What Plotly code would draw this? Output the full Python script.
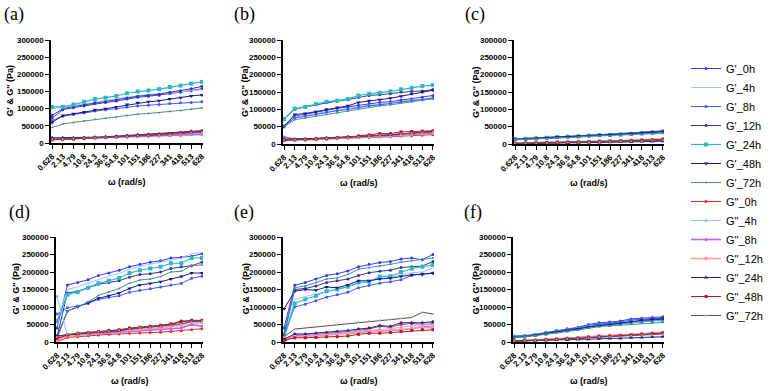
import plotly.graph_objects as go

# ---------------- data ----------------
OMEGA = ["0.628", "2.13", "4.79", "10.8", "24.3", "36.5", "54.8", "101", "151",
         "186", "227", "341", "418", "513", "628"]

SERIES = ["G'_0h", "G'_4h", "G'_8h", "G'_12h", "G'_24h", "G'_48h", "G'_72h",
          "G\"_0h", "G\"_4h", "G\"_8h", "G\"_12h", "G\"_24h", "G\"_48h", "G\"_72h"]

PANEL_LABELS = ["(a)", "(b)", "(c)", "(d)", "(e)", "(f)"]
Y_TICKS = [0, 50000, 100000, 150000, 200000, 250000, 300000]

# panel (a)
A_G1_0H = [72000, 97000, 103000, 108000, 115000, 118000, 122000, 128000, 133000, 136000, 139000, 144000, 148000, 152000, 158000]
A_G1_4H = [100000, 105000, 108000, 113000, 120000, 124000, 128000, 134000, 138000, 141000, 144000, 148000, 151000, 153000, 155000]
A_G1_8H = [65000, 78000, 83000, 88000, 93000, 97000, 100000, 105000, 108000, 110000, 112000, 115000, 117000, 118000, 120000]
A_G1_12H = [80000, 100000, 106000, 111000, 117000, 120000, 125000, 131000, 136000, 139000, 142000, 148000, 152000, 158000, 165000]
A_G1_24H = [105000, 105000, 112000, 120000, 128000, 132000, 137000, 145000, 150000, 153000, 157000, 163000, 167000, 173000, 178000]
A_G1_48H = [60000, 80000, 85000, 90000, 97000, 100000, 105000, 112000, 117000, 120000, 123000, 128000, 132000, 137000, 140000]
A_G1_72H = [45000, 55000, 60000, 64000, 69000, 72000, 75000, 80000, 84000, 86000, 88000, 92000, 95000, 98000, 102000]
A_G2_0H = [10000, 11000, 12000, 13000, 15000, 16000, 17000, 19000, 21000, 22000, 23000, 25000, 27000, 29000, 31000]
A_G2_4H = [12000, 12000, 13000, 14000, 15000, 16000, 17000, 19000, 20000, 21000, 22000, 24000, 25000, 27000, 28000]
A_G2_8H = [14000, 13000, 13000, 14000, 15000, 15000, 16000, 17000, 18000, 19000, 20000, 21000, 22000, 24000, 25000]
A_G2_12H = [12000, 12000, 13000, 14000, 16000, 17000, 18000, 20000, 22000, 23000, 24000, 26000, 28000, 30000, 32000]
A_G2_24H = [15000, 15000, 15000, 16000, 17000, 18000, 20000, 22000, 24000, 25000, 26000, 28000, 30000, 34000, 36000]
A_G2_48H = [9000, 11000, 12000, 13000, 15000, 16000, 18000, 20000, 22000, 23000, 25000, 27000, 29000, 31000, 34000]
A_G2_72H = [11000, 12000, 13000, 14000, 15000, 16000, 17000, 19000, 21000, 22000, 23000, 25000, 27000, 30000, 32000]

# panel (b)
B_G1_0H = [52000, 80000, 86000, 92000, 98000, 103000, 107000, 112000, 117000, 120000, 122000, 127000, 130000, 135000, 140000]
B_G1_4H = [55000, 78000, 83000, 88000, 93000, 97000, 101000, 107000, 112000, 115000, 118000, 123000, 127000, 130000, 133000]
B_G1_8H = [50000, 75000, 80000, 86000, 92000, 96000, 100000, 106000, 110000, 113000, 116000, 121000, 125000, 128000, 132000]
B_G1_12H = [72000, 100000, 107000, 113000, 120000, 124000, 128000, 135000, 140000, 142000, 145000, 150000, 152000, 153000, 157000]
B_G1_24H = [72000, 102000, 107000, 115000, 122000, 125000, 130000, 140000, 145000, 148000, 152000, 158000, 162000, 167000, 170000]
B_G1_48H = [50000, 85000, 88000, 93000, 100000, 105000, 110000, 120000, 125000, 128000, 132000, 138000, 145000, 150000, 155000]
B_G1_72H = [50000, 70000, 75000, 80000, 86000, 90000, 95000, 102000, 107000, 110000, 113000, 118000, 122000, 126000, 130000]
B_G2_0H = [10000, 11000, 11000, 12000, 14000, 15000, 16000, 18000, 19000, 20000, 21000, 23000, 24000, 25000, 27000]
B_G2_4H = [14000, 12000, 13000, 14000, 15000, 16000, 17000, 19000, 21000, 22000, 23000, 25000, 27000, 29000, 31000]
B_G2_8H = [20000, 14000, 14000, 15000, 16000, 17000, 18000, 20000, 22000, 23000, 24000, 26000, 28000, 30000, 32000]
B_G2_12H = [12000, 11000, 12000, 13000, 15000, 16000, 17000, 20000, 22000, 24000, 25000, 28000, 30000, 32000, 34000]
B_G2_24H = [14000, 14000, 15000, 16000, 18000, 19000, 20000, 22000, 24000, 25000, 26000, 29000, 31000, 34000, 37000]
B_G2_48H = [11000, 12000, 13000, 14000, 16000, 18000, 20000, 23000, 26000, 30000, 30000, 35000, 36000, 37000, 38000]
B_G2_72H = [12000, 12000, 13000, 14000, 16000, 17000, 18000, 21000, 23000, 25000, 26000, 29000, 31000, 33000, 35000]

# panel (c)
C_G1_0H = [15000, 16000, 17000, 19000, 21000, 22000, 23000, 25000, 27000, 28000, 29000, 31000, 33000, 35000, 38000]
C_G1_4H = [14000, 15000, 16000, 18000, 20000, 21000, 22000, 24000, 26000, 27000, 28000, 30000, 32000, 34000, 36000]
C_G1_8H = [15000, 15000, 17000, 19000, 21000, 22000, 23000, 25000, 27000, 28000, 29000, 31000, 33000, 35000, 37000]
C_G1_12H = [13000, 14000, 15000, 17000, 19000, 20000, 21000, 23000, 25000, 26000, 27000, 29000, 31000, 33000, 35000]
C_G1_24H = [14000, 15000, 16000, 18000, 20000, 21000, 22000, 24000, 25000, 26000, 27000, 29000, 30000, 32000, 34000]
C_G1_48H = [13000, 14000, 16000, 18000, 20000, 21000, 22000, 24000, 26000, 27000, 28000, 30000, 32000, 34000, 36000]
C_G1_72H = [12000, 13000, 14000, 16000, 18000, 19000, 20000, 22000, 23000, 24000, 25000, 27000, 28000, 30000, 31000]
C_G2_0H = [2000, 2500, 3000, 4000, 5000, 5500, 6000, 7000, 8000, 8500, 9000, 10000, 11000, 12000, 14000]
C_G2_4H = [1500, 2000, 2500, 3000, 4000, 4500, 5000, 6000, 7000, 7500, 8000, 9000, 10000, 11000, 12000]
C_G2_8H = [2000, 2500, 3000, 3500, 4500, 5000, 5500, 6500, 7500, 8000, 8500, 9500, 10500, 11500, 13000]
C_G2_12H = [2500, 3000, 3500, 4500, 5500, 6000, 6500, 7500, 8500, 9000, 9500, 10500, 11500, 12500, 14000]
C_G2_24H = [1000, 1200, 1500, 2000, 2500, 3000, 3500, 4000, 4500, 5000, 5500, 6000, 7000, 7500, 8000]
C_G2_48H = [2000, 2500, 3000, 4000, 5000, 5500, 6000, 7000, 8000, 8500, 9000, 10000, 11000, 12000, 13500]
C_G2_72H = [1500, 2000, 2500, 3000, 3500, 4000, 4500, 5000, 6000, 6500, 7000, 8000, 9000, 10000, 11000]

# panel (d)
D_G1_0H = [40000, 163000, 170000, 178000, 190000, 197000, 205000, 215000, 222000, 228000, 232000, 240000, 242000, 245000, 252000]
D_G1_4H = [60000, 150000, 158000, 168000, 180000, 188000, 196000, 208000, 216000, 222000, 228000, 236000, 240000, 253000, 255000]
D_G1_8H = [80000, 98000, 103000, 110000, 122000, 128000, 132000, 142000, 148000, 152000, 157000, 163000, 167000, 182000, 188000]
D_G1_12H = [15000, 140000, 145000, 155000, 165000, 170000, 175000, 185000, 193000, 195000, 200000, 210000, 215000, 218000, 228000]
D_G1_24H = [60000, 135000, 143000, 155000, 168000, 175000, 183000, 197000, 205000, 210000, 215000, 225000, 225000, 240000, 240000]
D_G1_48H = [15000, 88000, 100000, 112000, 125000, 132000, 140000, 153000, 163000, 167000, 172000, 180000, 187000, 197000, 197000]
D_G1_72H = [10000, 88000, 100000, 115000, 133000, 143000, 153000, 168000, 177000, 180000, 187000, 200000, 202000, 218000, 220000]
D_G2_0H = [0, 13000, 15000, 18000, 20000, 22000, 23000, 25000, 26000, 27000, 28000, 30000, 32000, 35000, 38000]
D_G2_4H = [130000, 20000, 22000, 24000, 26000, 28000, 30000, 33000, 35000, 37000, 39000, 43000, 47000, 52000, 55000]
D_G2_8H = [10000, 17000, 20000, 22000, 25000, 27000, 28000, 30000, 32000, 33000, 35000, 38000, 40000, 50000, 45000]
D_G2_12H = [5000, 18000, 21000, 24000, 27000, 29000, 31000, 35000, 38000, 40000, 42000, 46000, 50000, 58000, 57000]
D_G2_24H = [18000, 20000, 22000, 25000, 28000, 30000, 32000, 37000, 40000, 42000, 45000, 50000, 60000, 60000, 60000]
D_G2_48H = [10000, 20000, 25000, 27000, 30000, 33000, 35000, 40000, 42000, 45000, 48000, 52000, 57000, 62000, 62000]
D_G2_72H = [15000, 22000, 24000, 26000, 29000, 31000, 33000, 37000, 40000, 42000, 44000, 48000, 52000, 58000, 60000]

# panel (e)
E_G1_0H = [40000, 162000, 170000, 180000, 190000, 195000, 203000, 215000, 222000, 227000, 230000, 237000, 240000, 235000, 250000]
E_G1_4H = [15000, 122000, 130000, 137000, 145000, 150000, 158000, 168000, 175000, 182000, 185000, 192000, 198000, 200000, 212000]
E_G1_8H = [20000, 100000, 108000, 118000, 128000, 135000, 142000, 155000, 162000, 168000, 172000, 178000, 190000, 195000, 197000]
E_G1_12H = [20000, 150000, 153000, 160000, 170000, 175000, 180000, 190000, 198000, 202000, 205000, 213000, 215000, 217000, 230000]
E_G1_24H = [10000, 110000, 122000, 132000, 145000, 150000, 158000, 170000, 172000, 187000, 188000, 200000, 210000, 215000, 220000]
E_G1_48H = [95000, 145000, 150000, 148000, 157000, 155000, 163000, 175000, 175000, 180000, 182000, 188000, 192000, 193000, 197000]
E_G1_72H = [25000, 155000, 160000, 170000, 180000, 183000, 193000, 208000, 212000, 217000, 222000, 228000, 232000, 237000, 240000]
E_G2_0H = [0, 20000, 20000, 22000, 25000, 27000, 30000, 33000, 37000, 45000, 42000, 50000, 53000, 50000, 52000]
E_G2_4H = [10000, 18000, 20000, 22000, 24000, 26000, 28000, 32000, 34000, 36000, 38000, 42000, 45000, 50000, 48000]
E_G2_8H = [5000, 17000, 18000, 20000, 22000, 23000, 25000, 28000, 30000, 32000, 33000, 37000, 37000, 45000, 42000]
E_G2_12H = [8000, 15000, 16000, 18000, 20000, 22000, 24000, 27000, 29000, 31000, 32000, 35000, 38000, 42000, 40000]
E_G2_24H = [8000, 23000, 23000, 25000, 27000, 30000, 33000, 37000, 40000, 47000, 45000, 55000, 55000, 55000, 58000]
E_G2_48H = [5000, 12000, 12000, 13000, 15000, 15000, 17000, 22000, 25000, 25000, 27000, 30000, 33000, 35000, 35000]
E_G2_72H = [15000, 37000, 40000, 43000, 47000, 50000, 53000, 57000, 60000, 62000, 64000, 68000, 70000, 85000, 80000]

# panel (f)
F_G1_0H = [17000, 18000, 22000, 27000, 33000, 38000, 42000, 50000, 55000, 57000, 60000, 66000, 68000, 70000, 72000]
F_G1_4H = [15000, 16000, 20000, 25000, 31000, 35000, 39000, 46000, 50000, 52000, 55000, 60000, 62000, 64000, 66000]
F_G1_8H = [16000, 17000, 21000, 26000, 32000, 36000, 40000, 48000, 52000, 54000, 57000, 63000, 65000, 67000, 69000]
F_G1_12H = [14000, 16000, 20000, 25000, 30000, 34000, 38000, 44000, 48000, 50000, 53000, 58000, 61000, 63000, 65000]
F_G1_24H = [15000, 16000, 20000, 24000, 30000, 33000, 37000, 43000, 47000, 49000, 52000, 56000, 58000, 60000, 62000]
F_G1_48H = [13000, 15000, 19000, 24000, 29000, 33000, 37000, 43000, 47000, 50000, 53000, 58000, 62000, 64000, 67000]
F_G1_72H = [12000, 14000, 18000, 22000, 27000, 30000, 34000, 40000, 44000, 46000, 48000, 52000, 54000, 55000, 56000]
F_G2_0H = [3000, 4000, 5000, 7000, 9000, 11000, 12000, 15000, 17000, 18000, 19000, 22000, 23000, 25000, 27000]
F_G2_4H = [2000, 3000, 4000, 6000, 8000, 9000, 10000, 13000, 15000, 16000, 17000, 19000, 21000, 22000, 24000]
F_G2_8H = [2500, 3500, 4500, 6500, 8500, 10000, 11000, 14000, 16000, 17000, 18000, 21000, 22000, 24000, 26000]
F_G2_12H = [3000, 4000, 5000, 7000, 9000, 10500, 12000, 15000, 17000, 18000, 19000, 21000, 23000, 25000, 26000]
F_G2_24H = [3000, 3000, 4000, 5000, 6000, 6000, 7000, 8000, 9000, 10000, 10000, 12000, 13000, 14000, 15000]
F_G2_48H = [2500, 3500, 4500, 6000, 8000, 9500, 11000, 14000, 16000, 17000, 18000, 20000, 22000, 24000, 26000]
F_G2_72H = [2000, 3000, 4000, 5500, 7000, 8500, 9500, 12000, 14000, 15000, 16000, 18000, 20000, 21000, 23000]

PANEL_DATA = [
    [A_G1_0H, A_G1_4H, A_G1_8H, A_G1_12H, A_G1_24H, A_G1_48H, A_G1_72H,
     A_G2_0H, A_G2_4H, A_G2_8H, A_G2_12H, A_G2_24H, A_G2_48H, A_G2_72H],
    [B_G1_0H, B_G1_4H, B_G1_8H, B_G1_12H, B_G1_24H, B_G1_48H, B_G1_72H,
     B_G2_0H, B_G2_4H, B_G2_8H, B_G2_12H, B_G2_24H, B_G2_48H, B_G2_72H],
    [C_G1_0H, C_G1_4H, C_G1_8H, C_G1_12H, C_G1_24H, C_G1_48H, C_G1_72H,
     C_G2_0H, C_G2_4H, C_G2_8H, C_G2_12H, C_G2_24H, C_G2_48H, C_G2_72H],
    [D_G1_0H, D_G1_4H, D_G1_8H, D_G1_12H, D_G1_24H, D_G1_48H, D_G1_72H,
     D_G2_0H, D_G2_4H, D_G2_8H, D_G2_12H, D_G2_24H, D_G2_48H, D_G2_72H],
    [E_G1_0H, E_G1_4H, E_G1_8H, E_G1_12H, E_G1_24H, E_G1_48H, E_G1_72H,
     E_G2_0H, E_G2_4H, E_G2_8H, E_G2_12H, E_G2_24H, E_G2_48H, E_G2_72H],
    [F_G1_0H, F_G1_4H, F_G1_8H, F_G1_12H, F_G1_24H, F_G1_48H, F_G1_72H,
     F_G2_0H, F_G2_4H, F_G2_8H, F_G2_12H, F_G2_24H, F_G2_48H, F_G2_72H],
]

# ---------------- styles ----------------
STYLES = [
    dict(color="#3a3aff", symbol="circle", size=3, width=1),
    dict(color="#9cc4ff", symbol=None, size=0, width=1),
    dict(color="#3f5cff", symbol="circle", size=3, width=1),
    dict(color="#38389a", symbol="circle", size=3, width=1),
    dict(color="#2cb8c8", symbol="square", size=4, width=1.2),
    dict(color="#1c1c88", symbol="triangle-down", size=4, width=1),
    dict(color="#4b8d96", symbol="circle", size=2, width=1),
    dict(color="#ff2424", symbol="circle", size=3, width=1),
    dict(color="#8fbfff", symbol="circle", size=3, width=1),
    dict(color="#c060ff", symbol="circle", size=3, width=1.6),
    dict(color="#ff9c9c", symbol="circle", size=4, width=1.6),
    dict(color="#24249e", symbol="triangle-up", size=4, width=1),
    dict(color="#c21428", symbol="square", size=3, width=1),
    dict(color="#505050", symbol="circle", size=2, width=1, mcolor="#c8a070"),
]

W, H = 777, 391
# plot areas in pixels: (x0, x1, ytop, ybottom)
BOXES = [(51, 203, 40, 143), (283, 434, 40, 144), (514, 664, 40, 144),
         (56, 203, 237, 342), (283, 434, 237, 342), (513, 664, 237, 342)]

fig = go.Figure()
FONT = "Liberation Sans, Arial, sans-serif"

for p, (box, series_vals) in enumerate(zip(BOXES, PANEL_DATA)):
    x0, x1, yt, yb = box
    xa = "xaxis" if p == 0 else f"xaxis{p+1}"
    ya = "yaxis" if p == 0 else f"yaxis{p+1}"
    xref = "x" if p == 0 else f"x{p+1}"
    yref = "y" if p == 0 else f"y{p+1}"
    for s, (name, vals, st) in enumerate(zip(SERIES, series_vals, STYLES)):
        mode = "lines" if st["symbol"] is None else "lines+markers"
        marker = dict(size=st["size"], symbol=st["symbol"] or "circle",
                      color=st.get("mcolor", st["color"]))
        fig.add_trace(go.Scatter(
            x=OMEGA, y=vals, name=name, mode=mode, legendgroup=name,
            showlegend=(p == 0), line=dict(color=st["color"], width=st["width"]),
            marker=marker, xaxis=xref, yaxis=yref))
    fig.update_layout({
        xa: dict(domain=[x0 / W, x1 / W], anchor=yref, type="category",
                 categoryorder="array", categoryarray=OMEGA,
                 range=[-0.1, len(OMEGA) - 0.9], showline=True, linecolor="black",
                 linewidth=1.5, ticks="outside", ticklen=4, tickwidth=1.2,
                 tickcolor="black", tickangle=-45, showgrid=False, zeroline=False,
                 automargin=False,
                 tickfont=dict(family=FONT, size=8, color="black", weight="bold")),
        ya: dict(domain=[1 - yb / H, 1 - yt / H], anchor=xref, range=[0, 300000],
                 tickvals=Y_TICKS, tickformat=".0f", showline=True, linecolor="black",
                 linewidth=1.5, ticks="outside", ticklen=4, tickwidth=1.2,
                 tickcolor="black", showgrid=False, zeroline=False, automargin=False,
                 tickfont=dict(family=FONT, size=8, color="black", weight="bold")),
    })
    # panel label
    fig.add_annotation(text=PANEL_LABELS[p], xref="paper", yref="paper",
                       x=(x0 - (49 if p % 3 == 0 else 51)) / W, y=1 - (yt - 25) / H,
                       xanchor="left", yanchor="middle", showarrow=False,
                       font=dict(family="Liberation Serif, Times New Roman, serif",
                                 size=18, color="black"))
    # y title
    fig.add_annotation(text="G' & G'' (Pa)", xref="paper", yref="paper",
                       x=(x0 - 41 if p % 3 == 0 else x0 - 38) / W,
                       y=1 - ((yt + yb) / 2) / H, textangle=-90,
                       xanchor="center", yanchor="middle", showarrow=False,
                       font=dict(family=FONT, size=9, color="black", weight="bold"))
    # x title
    fig.add_annotation(text="ω (rad/s)", xref="paper", yref="paper",
                       x=((x0 + x1) / 2) / W, y=1 - (yb + 39) / H,
                       xanchor="center", yanchor="middle", showarrow=False,
                       font=dict(family=FONT, size=9, color="black", weight="bold"))

fig.update_layout(
    width=W, height=H,
    margin=dict(l=0, r=0, t=0, b=0, pad=0, autoexpand=False),
    paper_bgcolor="white", plot_bgcolor="white",
    legend=dict(x=686 / W, y=1 - 54 / H, xanchor="left", yanchor="top",
                font=dict(family=FONT, size=11, color="black"),
                bgcolor="rgba(0,0,0,0)", tracegroupgap=0),
)

fig.write_html(
    "out.html",
    config={"displayModeBar": False},
    post_script="document.body.style.margin='0';document.body.style.overflow='hidden';",
)
